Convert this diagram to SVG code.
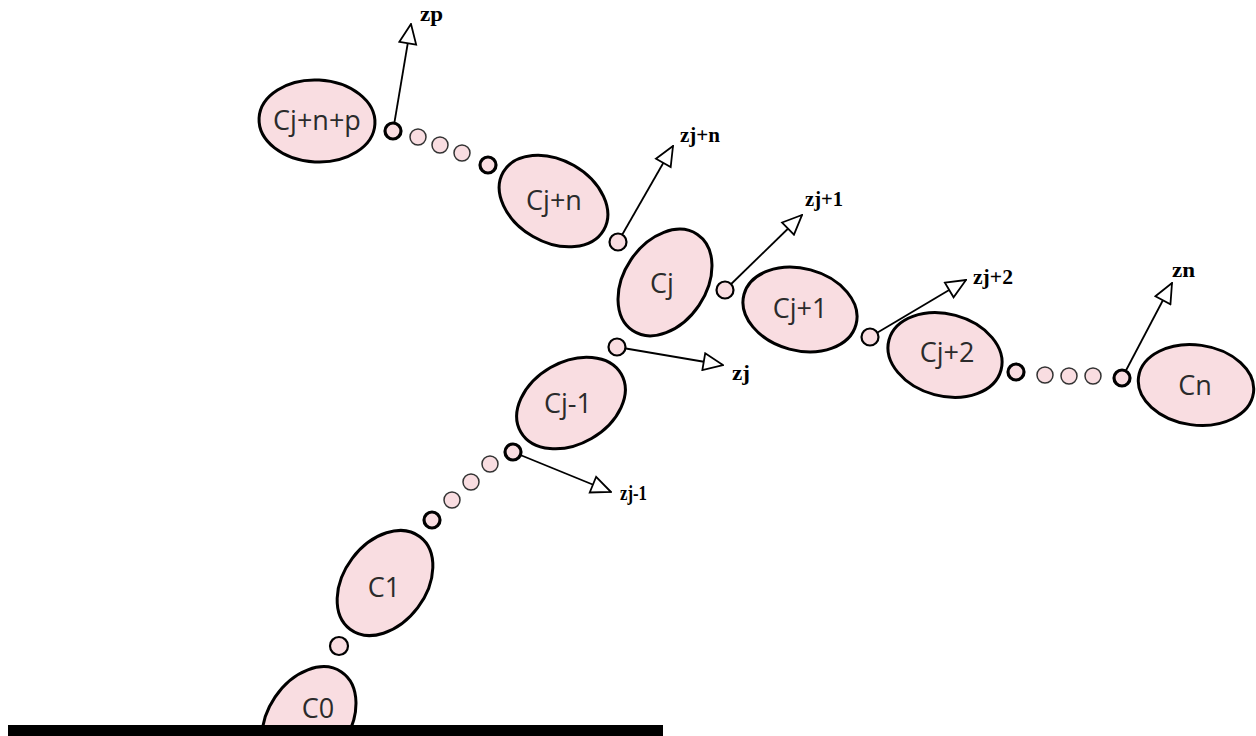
<svg xmlns="http://www.w3.org/2000/svg" width="1256" height="736" viewBox="0 0 1256 736">
<style>
.body{fill:#f9dde1;stroke:#000;stroke-width:3}
.lbl{font-family:"Open Sans","Liberation Sans",sans-serif;font-size:27px;fill:#2b2b2b;text-anchor:middle}
.z{font-family:"Liberation Serif",serif;font-weight:bold;font-size:20px;fill:#000}
.ax{stroke:#000;stroke-width:1.8;fill:none;marker-end:url(#tri)}
.jh{fill:#f9dde1;stroke:#000;stroke-width:3.2}
.jm{fill:#f9dde1;stroke:#000;stroke-width:2.2}
.jl{fill:#f9dde1;stroke:#333;stroke-width:1.5}
</style>
<defs>
<marker id="tri" viewBox="0 0 22 20" refX="21" refY="10" markerWidth="22" markerHeight="20" markerUnits="userSpaceOnUse" orient="auto">
<path d="M1.5,1.5 L21,10 L1.5,18.5 Z" fill="#fff" stroke="#000" stroke-width="1.8"/>
</marker>
</defs>
<rect width="1256" height="736" fill="#fff"/>

<g id="connectors">
<line class="ax" x1="393" y1="131" x2="411" y2="24"/>
<line class="ax" x1="618" y1="242" x2="673" y2="146"/>
<line class="ax" x1="725" y1="290" x2="802" y2="215"/>
<line class="ax" x1="870" y1="337" x2="966" y2="280"/>
<line class="ax" x1="1122" y1="378" x2="1172" y2="283"/>
<line class="ax" x1="617" y1="347" x2="723" y2="365"/>
<line class="ax" x1="513" y1="452" x2="611" y2="492"/>
</g>

<g id="joints">
<circle class="jh" cx="393" cy="131" r="8"/>
<circle class="jl" cx="418" cy="137" r="8"/>
<circle class="jl" cx="440" cy="145" r="8"/>
<circle class="jl" cx="462" cy="153" r="8"/>
<circle class="jh" cx="488" cy="165" r="8"/>
<circle class="jm" cx="618" cy="242" r="8.5"/>
<circle class="jm" cx="725" cy="290" r="8.5"/>
<circle class="jm" cx="870" cy="337" r="8.5"/>
<circle class="jh" cx="1016" cy="372" r="8"/>
<circle class="jl" cx="1045" cy="375" r="8"/>
<circle class="jl" cx="1069" cy="376" r="8"/>
<circle class="jl" cx="1093" cy="376" r="8"/>
<circle class="jh" cx="1122" cy="378" r="8"/>
<circle class="jm" cx="617" cy="347" r="8.5"/>
<circle class="jh" cx="513" cy="452" r="8"/>
<circle class="jl" cx="490" cy="464" r="8"/>
<circle class="jl" cx="471" cy="482" r="8"/>
<circle class="jl" cx="452" cy="500" r="8"/>
<circle class="jh" cx="432" cy="520" r="8"/>
<circle class="jm" cx="339" cy="646" r="9"/>
</g>

<g id="node-C0">
<ellipse class="body" cx="309" cy="720" rx="58" ry="41" transform="rotate(-56 309 720)"/>
<text class="lbl" x="318" y="718">C0</text>
</g>
<g id="node-C1">
<ellipse class="body" cx="385" cy="583" rx="58" ry="41" transform="rotate(-53 385 583)"/>
<text class="lbl" x="384" y="597">C1</text>
</g>
<g id="node-Cj-1">
<ellipse class="body" cx="571" cy="403" rx="58" ry="41" transform="rotate(-30 571 403)"/>
<text class="lbl" x="568" y="413">Cj-1</text>
</g>
<g id="node-Cj">
<ellipse class="body" cx="665" cy="282.5" rx="58" ry="41" transform="rotate(-56 665 282.5)"/>
<text class="lbl" x="662" y="293">Cj</text>
</g>
<g id="node-Cj+n">
<ellipse class="body" cx="553.5" cy="201" rx="58" ry="41" transform="rotate(30 553.5 201)"/>
<text class="lbl" x="554" y="210">Cj+n</text>
</g>
<g id="node-Cj+n+p">
<ellipse class="body" cx="317" cy="121" rx="58" ry="41" transform="rotate(3 317 121)"/>
<text class="lbl" x="317" y="130">Cj+n+p</text>
</g>
<g id="node-Cj+1">
<ellipse class="body" cx="800" cy="309.5" rx="58" ry="41" transform="rotate(15 800 309.5)"/>
<text class="lbl" x="800" y="318">Cj+1</text>
</g>
<g id="node-Cj+2">
<ellipse class="body" cx="945" cy="355" rx="58" ry="41" transform="rotate(15 945 355)"/>
<text class="lbl" x="947" y="362">Cj+2</text>
</g>
<g id="node-Cn">
<ellipse class="body" cx="1196" cy="385" rx="58" ry="40" transform="rotate(8 1196 385)"/>
<text class="lbl" x="1195" y="395">Cn</text>
</g>

<rect id="ground" x="8" y="725" width="655" height="14" fill="#000"/>

<g id="labels">
<text class="z" x="420" y="21" textLength="23" lengthAdjust="spacingAndGlyphs">zp</text>
<text class="z" x="680" y="142" textLength="40" lengthAdjust="spacingAndGlyphs">zj+n</text>
<text class="z" x="805" y="206" textLength="38" lengthAdjust="spacingAndGlyphs">zj+1</text>
<text class="z" x="973" y="284" textLength="40" lengthAdjust="spacingAndGlyphs">zj+2</text>
<text class="z" x="1172" y="277" textLength="23" lengthAdjust="spacingAndGlyphs">zn</text>
<text class="z" x="732" y="380" textLength="18" lengthAdjust="spacingAndGlyphs">zj</text>
<text class="z" x="620" y="500" textLength="27" lengthAdjust="spacingAndGlyphs">zj-1</text>
</g>
</svg>
